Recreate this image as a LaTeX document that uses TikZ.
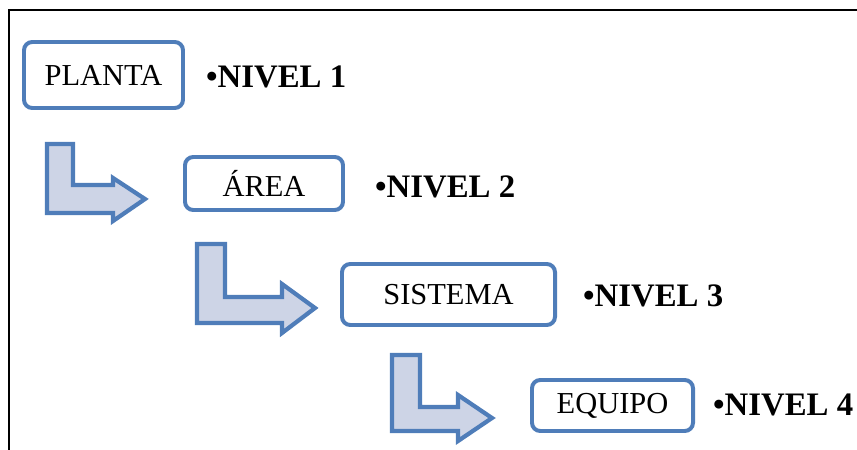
\documentclass[tikz,border=0pt]{standalone}
\usepackage{fontspec}
\setmainfont{Liberation Serif}
\definecolor{azulnivel}{HTML}{4F7DB9}
\definecolor{grisflecha}{HTML}{CDD4E6}

\begin{document}
\begin{tikzpicture}[
  x={(0.03cm,0cm)},
  y={(0cm,-0.03cm)},
  caja/.style={draw=azulnivel, line width=3.4pt, rounded corners=7pt,
    fill=white, inner sep=0pt, font=\fontsize{26}{30}\selectfont},
  nivel/.style={anchor=west, inner sep=0pt, font=\fontsize{28}{32}\selectfont\bfseries},
  flecha/.style={draw=azulnivel, line width=3.6pt, fill=grisflecha, line join=miter}
]
  \useasboundingbox (0,0) rectangle (857,450);

  % marco
  \draw[line width=1.7pt] (9,450) -- (9,10) -- (857,10);

  % cajas
  \node[caja, minimum width=4.77cm, minimum height=1.98cm] (planta) at (103.5,75) {PLANTA};
  \node[caja, minimum width=4.74cm, minimum height=1.59cm] (area) at (264,183.5) {ÁREA};
  \node[caja, minimum width=6.39cm, minimum height=1.83cm] (sistema) at (448.5,294.5) {SISTEMA};
  \node[caja, minimum width=4.83cm, minimum height=1.53cm] (equipo) at (612.5,405.5) {EQUIPO};

  % niveles
  \node[nivel] (nivel1) at (206,77) {•NIVEL 1};
  \node[nivel] (nivel2) at (375,187) {•NIVEL 2};
  \node[nivel] (nivel3) at (583,296) {•NIVEL 3};
  \node[nivel] (nivel4) at (713,405) {•NIVEL 4};

  % flechas
  \draw[flecha] (47,144) -- (73,144) -- (73,185) -- (113,185) -- (113,178)
    -- (145,199) -- (113,221) -- (113,213) -- (47,213) -- cycle;
  \draw[flecha] (197,244) -- (225,244) -- (225,297) -- (282,297) -- (282,284)
    -- (315,308) -- (282,333) -- (282,323) -- (197,323) -- cycle;
  \draw[flecha] (392,355) -- (420,355) -- (420,407) -- (458,407) -- (458,395)
    -- (492,418) -- (458,441) -- (458,431) -- (392,431) -- cycle;
\end{tikzpicture}
\end{document}
